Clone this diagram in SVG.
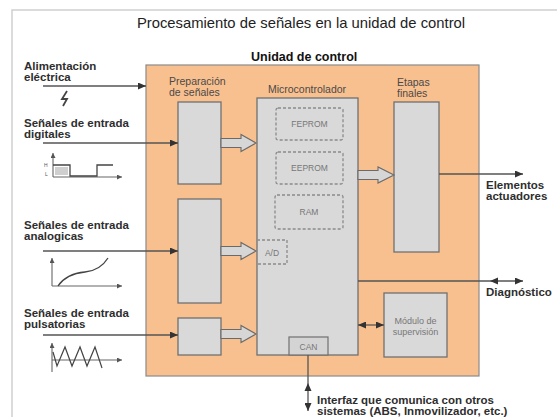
<svg xmlns="http://www.w3.org/2000/svg" width="557" height="417" viewBox="0 0 557 417">
<defs>
<style>
.lbl{font-family:"Liberation Sans",Arial,sans-serif;font-size:11.5px;font-weight:bold;fill:#2e2e2e}
.in{font-family:"Liberation Sans",Arial,sans-serif;font-size:10.5px;fill:#4a4a4a}
.sm{font-family:"Liberation Sans",Arial,sans-serif;font-size:8.5px;fill:#777}
.box{fill:#d9d9d9;stroke:#707070;stroke-width:1.3}
.dash{fill:none;stroke:#8a8a8a;stroke-width:1.3;stroke-dasharray:3 2}
.ln{fill:none;stroke:#555;stroke-width:1.3}
.hollow{fill:#d6d6d6;stroke:#6a6a6a;stroke-width:1.1}
.ah{fill:#333}
.ax{fill:none;stroke:#666;stroke-width:1.1}
</style>
<marker id="arr" markerUnits="userSpaceOnUse" markerWidth="9" markerHeight="7" refX="8" refY="3.5" orient="auto-start-reverse">
<path d="M0,0 L8,3.5 L0,7 z" fill="#333"/>
</marker>
<marker id="arrs" markerUnits="userSpaceOnUse" markerWidth="6" markerHeight="5" refX="5" refY="2.5" orient="auto">
<path d="M0,0 L5,2.5 L0,5 z" fill="#555"/>
</marker>
</defs>
<rect x="0" y="0" width="557" height="417" fill="#ffffff"/>
<path d="M12,417 L12,10 L557,10" fill="none" stroke="#cfcfcf" stroke-width="1.5"/>
<text x="301" y="28" text-anchor="middle" style="font-family:'Liberation Sans',Arial,sans-serif;font-size:14.8px;fill:#222">Procesamiento de señales en la unidad de control</text>
<g id="unidad">
<rect x="146" y="65" width="333" height="311" fill="#f9c08f" stroke="#8a8a8a" stroke-width="1.2"/>
<text x="251" y="61" style="font-family:'Liberation Sans',Arial,sans-serif;font-size:12.5px;font-weight:bold;fill:#111">Unidad de control</text>
</g>
<g id="preparacion">
<text class="in" x="169" y="85">Preparación</text>
<text class="in" x="169" y="96">de señales</text>
<rect id="prep-digital" class="box" x="178" y="102" width="43" height="82"/>
<rect id="prep-analog" class="box" x="178" y="199" width="43" height="104"/>
<rect id="prep-pulse" class="box" x="178" y="318" width="43" height="37"/>
</g>
<g id="microcontrolador">
<text class="in" x="307" y="93" text-anchor="middle">Microcontrolador</text>
<rect class="box" x="257" y="98" width="101" height="257" fill="#dbdbdb"/>
<rect class="dash" x="276" y="108" width="67" height="32" rx="2"/>
<text class="sm" x="309.5" y="127" text-anchor="middle">FEPROM</text>
<rect class="dash" x="276" y="152" width="67" height="32" rx="2"/>
<text class="sm" x="309.5" y="171" text-anchor="middle">EEPROM</text>
<rect class="dash" x="275" y="195" width="68" height="34" rx="2"/>
<text class="sm" x="309" y="215" text-anchor="middle">RAM</text>
<path class="dash" d="M257,240 L287,240 L287,264 L257,264"/>
<text class="sm" x="272" y="256" text-anchor="middle">A/D</text>
<rect x="289" y="337" width="39" height="18" fill="#d4d4d4" stroke="#707070" stroke-width="1.2"/>
<text class="sm" x="308.5" y="349.5" text-anchor="middle">CAN</text>
</g>
<g id="etapas">
<text class="in" x="397" y="86">Etapas</text>
<text class="in" x="397" y="97">finales</text>
<rect class="box" x="394" y="102" width="45" height="150"/>
</g>
<g id="modulo">
<rect class="box" x="384" y="293" width="63" height="64"/>
<text class="sm" x="415.5" y="324" text-anchor="middle" style="font-size:9px">Módulo de</text>
<text class="sm" x="415.5" y="334.5" text-anchor="middle" style="font-size:9px">supervisión</text>
</g>
<g id="entradas">
<text class="lbl" x="24" y="70">Alimentación</text>
<text class="lbl" x="24" y="80.5">eléctrica</text>
<polyline points="67,91 62,99 67,99 63,106" fill="none" stroke="#444" stroke-width="1.8" stroke-linejoin="miter"/>
<text class="lbl" x="24" y="127">Señales de entrada</text>
<text class="lbl" x="24" y="137.5">digitales</text>
<line class="ax" x1="53" y1="177" x2="53" y2="153" marker-end="url(#arrs)"/>
<line class="ax" x1="53" y1="177" x2="122" y2="177" marker-end="url(#arrs)"/>
<rect x="55" y="167" width="13" height="8" fill="#cfcfcf"/>
<polyline points="53,165 70,165 70,176 97,176 97,165 113,165" fill="none" stroke="#444" stroke-width="1.3"/>
<text x="44" y="167" style="font-family:'Liberation Sans',Arial,sans-serif;font-size:5px;fill:#555">H</text>
<text x="45" y="176" style="font-family:'Liberation Sans',Arial,sans-serif;font-size:5px;fill:#555">L</text>
<text class="lbl" x="24" y="229">Señales de entrada</text>
<text class="lbl" x="24" y="239.5">analogicas</text>
<line class="ax" x1="52" y1="286" x2="52" y2="258" marker-end="url(#arrs)"/>
<line class="ax" x1="52" y1="286" x2="122" y2="286" marker-end="url(#arrs)"/>
<path d="M58,286 C64,277 74,273 85,272 C96,271 103,266 108,258" fill="none" stroke="#444" stroke-width="1.3"/>
<text class="lbl" x="24" y="317">Señales de entrada</text>
<text class="lbl" x="24" y="327.5">pulsatorias</text>
<line class="ax" x1="52" y1="372" x2="52" y2="343" marker-end="url(#arrs)"/>
<line class="ax" x1="52" y1="360" x2="122" y2="360" marker-end="url(#arrs)"/>
<polyline points="53,352 57,366 65,347 72,366 80,347 87,366 95,347 102,368" fill="none" stroke="#444" stroke-width="1.2"/>
</g>
<g id="connectors">
<line class="ln" x1="43" y1="86" x2="146" y2="86" marker-end="url(#arr)"/>
<line class="ln" x1="43" y1="143" x2="178" y2="143" marker-end="url(#arr)"/>
<line class="ln" x1="43" y1="251" x2="178" y2="251" marker-end="url(#arr)"/>
<line class="ln" x1="43" y1="335" x2="178" y2="335" marker-end="url(#arr)"/>
<path class="hollow" d="M221,138.5 L241,138.5 L241,134.5 L256,143 L241,151.5 L241,147.5 L221,147.5 z"/>
<path class="hollow" d="M221,246.5 L241,246.5 L241,242.5 L256,251 L241,259.5 L241,255.5 L221,255.5 z"/>
<path class="hollow" d="M221,329.5 L241,329.5 L241,325.5 L256,334 L241,342.5 L241,338.5 L221,338.5 z"/>
<path class="hollow" d="M358,170.5 L378,170.5 L378,167 L394,175 L378,183 L378,179.5 L358,179.5 z"/>
<line class="ln" x1="439" y1="174" x2="523" y2="174" marker-end="url(#arr)"/>
<line class="ln" x1="358" y1="281" x2="523" y2="281" marker-end="url(#arr)"/>
<path class="ah" d="M490,281 L498,277.5 L498,284.5 z"/>
<line class="ln" x1="358" y1="325" x2="384" y2="325" marker-start="url(#arr)" marker-end="url(#arr)"/>
<line class="ln" x1="308" y1="355" x2="308" y2="411" marker-end="url(#arr)"/>
<path class="ah" d="M308,383 L304.5,391 L311.5,391 z"/>
</g>
<g id="salidas">
<text class="lbl" x="486" y="189">Elementos</text>
<text class="lbl" x="486" y="199.5">actuadores</text>
<text class="lbl" x="486" y="296">Diagnóstico</text>
<text class="lbl" x="317" y="404">Interfaz que comunica con otros</text>
<text class="lbl" x="317" y="414.5">sistemas (ABS, Inmovilizador, etc.)</text>
</g>
</svg>
